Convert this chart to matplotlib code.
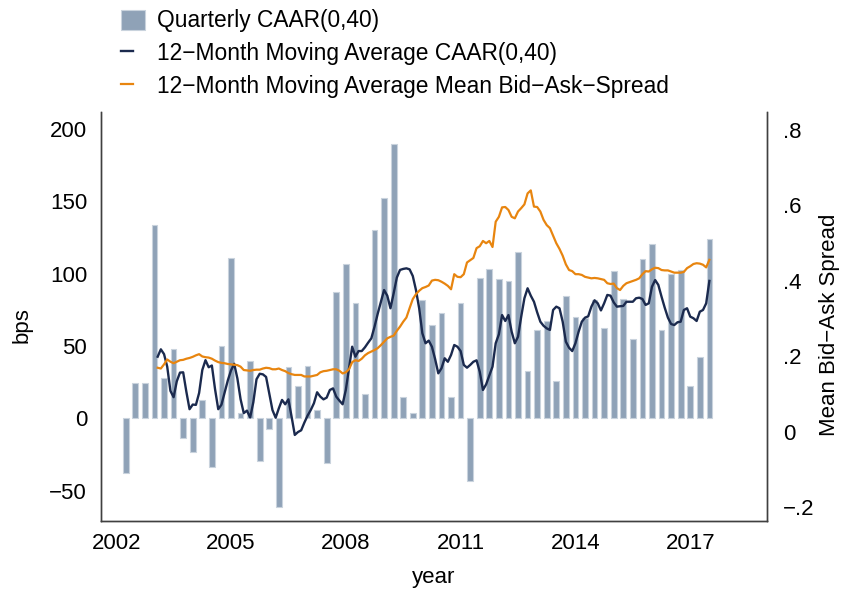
import matplotlib
matplotlib.use("Agg")
import matplotlib.pyplot as plt
import numpy as np
import pandas as pd
from matplotlib.lines import Line2D
from matplotlib.patches import Patch
from matplotlib.legend_handler import HandlerLine2D

plt.rcParams['font.family'] = ['Liberation Sans', 'DejaVu Sans']

# ---------------- data ----------------
# quarterly bars: 2002Q2 .. 2017Q3
quarters = pd.period_range("2002Q2", "2017Q3", freq="Q")
caar_q = [-38, 24.6, 24.6, 134, 27.9, 47.7, -13.4, -23, 13, -34, 50, 111, 3.5, 39.6,
          -29.3, -7.4, -61.6, 35.3, 22, 36.2, 5.5, -30.7,
          87.6, 107, 79.8, 16.6, 130, 152, 189.8, 14.7, 3.7, 81.6, 64.6, 72.9, 14.7,
          79.8, -43.4, 96.9, 103.5, 96, 95, 114.9, 32.7, 61.1, 67.3,
          25.8, 84.6, 70.1, 69.7, 82.1, 62.3, 102.2, 82.8, 54.7, 110.5, 120.6, 60.9,
          100.1, 102.4, 22.4, 42.4, 124.1]

# monthly moving averages: 2003-02 .. 2017-07
months = pd.period_range("2003-02", "2017-07", freq="M")
caar_ma = [42.6, 47.7, 44.4, 35.7, 19.0, 14.6, 25.6, 31.6, 31.8, 18.4, 6.3, 9.5, 9.3, 17.5,
           33.4, 40.2, 35.3, 36.5, 20.1, 6.3, 9.4, 17.8, 26.2, 33.1, 37.7, 27.6, 13.2, 3.6,
           5.3, 0.6, 11.1, 27.0, 30.8,
           30.4, 28.6, 17.3, 5.7, 0.4, 6.9, 12.7, 9.7, 13.1, 1.1, -11.5, -9.5, -8.3, -3.0,
           1.8, 5.7, 10.4, 18.0, 15.0, 13.1, 14.3, 19.6, 20.7, 15.0, 12.2, 9.7, 19.6, 34.6,
           49.5, 42.6, 46.5, 46.5, 49.1, 52.3, 55.3,
           63.3, 72.3, 80.5, 88.7, 84.8, 76.1, 86.4, 97.3, 102.6, 103.3, 103.7, 103.0, 98.4,
           88.7, 76.1, 58.8, 51.9, 53.7, 49.5, 41.0, 31.1, 34.6, 41.5, 39.1, 43.8, 50.7,
           49.5, 46.5, 36.9, 35.0, 36.9, 39.1, 40.1, 32.2, 19.6,
           23.5, 29.7, 35.7, 51.9, 58.1, 71.4, 67.3, 71.4, 59.9, 51.9, 56.4, 70.3, 83.0,
           89.9, 84.8, 80.6, 73.3, 66.8, 64.0, 62.2, 61.1, 74.9, 77.2, 76.1, 66.8, 53.0,
           48.8, 46.5, 51.9, 59.9, 66.8, 69.6, 70.5, 77.2, 81.6, 79.5,
           74.6, 79.5, 85.3, 84.8, 80.2, 77.2, 77.5, 77.7, 80.6, 80.6, 80.6, 83.0, 83.4,
           82.5, 78.4, 79.5, 91.0, 95.6, 92.2, 84.1, 76.5, 69.6, 65.2, 64.5, 66.4, 66.8,
           74.9, 76.1, 70.3, 69.2, 67.3, 73.7, 74.9, 79.5, 95.0]
spread_ma = [0.170, 0.168, 0.179, 0.192, 0.186, 0.182, 0.186, 0.190, 0.191, 0.194, 0.196,
             0.199, 0.203, 0.206, 0.200, 0.198, 0.197, 0.194, 0.189, 0.185, 0.183, 0.182,
             0.180, 0.179, 0.178, 0.177, 0.173, 0.164, 0.163, 0.162, 0.164, 0.165, 0.165,
             0.168, 0.170, 0.169, 0.166, 0.166, 0.168, 0.164, 0.161, 0.156, 0.153, 0.151,
             0.151, 0.151, 0.147, 0.147, 0.147, 0.149, 0.151, 0.158, 0.161, 0.162, 0.164,
             0.166, 0.166, 0.162, 0.155, 0.158, 0.166, 0.185, 0.190, 0.188, 0.194, 0.203,
             0.209, 0.213,
             0.217, 0.222, 0.230, 0.239, 0.248, 0.252, 0.255, 0.268, 0.279, 0.292, 0.303,
             0.328, 0.352, 0.365, 0.374, 0.381, 0.384, 0.388, 0.401, 0.403, 0.402, 0.398,
             0.393, 0.387, 0.378, 0.418, 0.411, 0.410, 0.418, 0.449, 0.455, 0.461, 0.487,
             0.492, 0.506,
             0.500, 0.506, 0.490, 0.557, 0.570, 0.595, 0.596, 0.588, 0.570, 0.566, 0.584,
             0.593, 0.603, 0.632, 0.640, 0.597, 0.596, 0.584, 0.562, 0.548, 0.540, 0.520,
             0.500, 0.485, 0.467, 0.444, 0.429, 0.426, 0.418, 0.418, 0.416, 0.411, 0.409,
             0.407, 0.408, 0.407,
             0.405, 0.403, 0.394, 0.392, 0.393, 0.381, 0.376, 0.387, 0.394, 0.397, 0.400,
             0.403, 0.407, 0.418, 0.426, 0.425, 0.431, 0.435, 0.434, 0.429, 0.428, 0.428,
             0.425, 0.422, 0.422, 0.422, 0.424, 0.434, 0.439, 0.445, 0.447, 0.446, 0.443,
             0.436, 0.456]

x_ticks = [2002, 2005, 2008, 2011, 2014, 2017]
left_ticks = [-50, 0, 50, 100, 150, 200]
left_ticklabels = ["\u221250", "0", "50", "100", "150", "200"]
right_ticks = [-0.2, 0, 0.2, 0.4, 0.6, 0.8]
right_ticklabels = ["\u2212.2", "0", ".2", ".4", ".6", ".8"]

labels = ["Quarterly CAAR(0,40)",
          "12\u2212Month Moving Average CAAR(0,40)",
          "12\u2212Month Moving Average Mean Bid\u2212Ask\u2212Spread"]

# ---------------- styling ----------------
BAR_FC = "#8fa2b7"
BAR_EC = "#c9d3dd"
NAVY = "#1b2a4e"
ORANGE = "#e8850f"
FS = 16
LFS = 16.4

qx = np.array([q.year + (q.quarter - 1) / 4 for q in quarters])
mx = np.array([m.year + (m.month - 1) / 12 for m in months])

fig = plt.figure(figsize=(8.45, 5.92), dpi=100)
W, H = 845, 592
l, r, b, t = 101, 766.7, 520.7, 112
ax = fig.add_axes([l / W, 1 - b / H, (r - l) / W, (b - t) / H])
ax2 = ax.twinx()

ax.bar(qx, caar_q, width=0.15, color=BAR_FC, edgecolor=BAR_EC, linewidth=0.8, zorder=2)
ax.plot(mx, caar_ma, color=NAVY, lw=1.7, zorder=3)
ax2.plot(mx, spread_ma, color=ORANGE, lw=1.6, zorder=3)

ax.set_xlim(2001.603, 2018.998)
ax.set_ylim(-70.8, 211.8)
ax2.set_ylim(-0.2352, 0.8477)

ax.set_xticks(x_ticks)
ax.set_xticklabels([str(v) for v in x_ticks])
ax.set_yticks(left_ticks)
ax.set_yticklabels(left_ticklabels)
ax2.set_yticks(right_ticks)
ax2.set_yticklabels(right_ticklabels)

for a in (ax, ax2):
    a.tick_params(length=0, labelsize=FS, colors="black")
    for s in a.spines.values():
        s.set_color("#404040")
        s.set_linewidth(1.0)
    a.spines["top"].set_visible(False)
ax.tick_params(axis="y", pad=10)
ax.tick_params(axis="x", pad=9)
ax2.tick_params(axis="y", pad=12)

ax.set_xlabel("year", fontsize=FS, va="center")
ax.xaxis.set_label_coords(0.5, -0.138)
ax.set_ylabel("bps", fontsize=FS, va="center", ha="center")
ax.yaxis.set_label_coords(-0.1187, 0.479)
ax2.set_ylabel("Mean Bid\u2212Ask Spread", fontsize=FS, va="center", ha="center")
ax2.yaxis.set_label_coords(1.095, 0.479)


class ShortLine(HandlerLine2D):
    def create_artists(self, legend, orig_handle, xdescent, ydescent, width, height,
                       fontsize, trans):
        return super().create_artists(legend, orig_handle, xdescent, ydescent,
                                      width * 0.5, height, fontsize, trans)


handles = [Patch(facecolor=BAR_FC, edgecolor=BAR_EC, linewidth=0.8),
           Line2D([], [], color=NAVY, lw=1.7),
           Line2D([], [], color=ORANGE, lw=1.6)]
fig.legend(handles, labels, loc="upper left", bbox_to_anchor=(100.5 / W, 1 + 11 / H),
           frameon=False, fontsize=LFS, handlelength=1.05, handleheight=0.96,
           handletextpad=0.53, labelspacing=0.425,
           handler_map={Line2D: ShortLine()})

fig.savefig("out.png", dpi=100)
